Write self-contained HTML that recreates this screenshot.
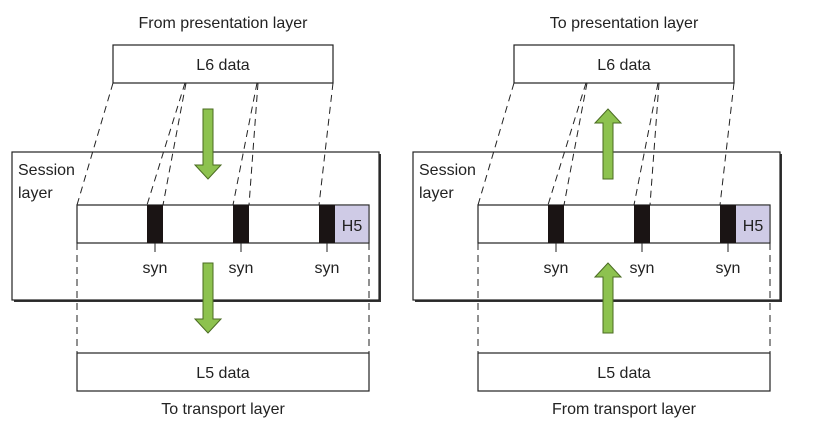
<!DOCTYPE html>
<html><head><meta charset="utf-8"><style>
html,body{margin:0;padding:0;background:#fff;}
svg{display:block;}
text{font-family:"Liberation Sans",sans-serif;font-size:16px;fill:#222;}
</style></head><body>
<svg width="829" height="432" viewBox="0 0 829 432" xmlns="http://www.w3.org/2000/svg">
<defs>
<g id="common">
  <rect x="14" y="154" width="367" height="148" fill="#333"/>
  <rect x="12" y="152" width="367" height="148" fill="#fff" stroke="#222" stroke-width="1.2"/>
  <rect x="113" y="45" width="220" height="38" fill="#fff" stroke="#222" stroke-width="1.2"/>
  <text x="223" y="70" text-anchor="middle">L6 data</text>
  <text x="18" y="175">Session</text>
  <text x="18" y="198">layer</text>
  <rect x="77" y="205" width="292" height="38" fill="#fff" stroke="#222" stroke-width="1.2"/>
  <rect x="147" y="205" width="16" height="38" fill="#1a1414"/>
  <rect x="233" y="205" width="16" height="38" fill="#1a1414"/>
  <rect x="319" y="205" width="16" height="38" fill="#1a1414"/>
  <rect x="335" y="205.6" width="33.4" height="36.8" fill="#cfcbe6"/>
  <text x="352" y="231" text-anchor="middle">H5</text>
  <g stroke="#222" stroke-width="1" stroke-dasharray="7,5" fill="none">
    <line x1="113" y1="83" x2="77" y2="205"/>
    <line x1="185" y1="83" x2="147" y2="205"/>
    <line x1="186" y1="83" x2="163" y2="205"/>
    <line x1="257" y1="83" x2="233" y2="205"/>
    <line x1="258" y1="83" x2="249" y2="205"/>
    <line x1="333" y1="83" x2="319" y2="205"/>
    <line x1="77" y1="243" x2="77" y2="353"/>
    <line x1="369" y1="243" x2="369" y2="353"/>
  </g>
  <g stroke="#222" stroke-width="1">
    <line x1="155" y1="243" x2="155" y2="252"/>
    <line x1="241" y1="243" x2="241" y2="252"/>
    <line x1="327" y1="243" x2="327" y2="252"/>
  </g>
  <text x="155" y="273" text-anchor="middle">syn</text>
  <text x="241" y="273" text-anchor="middle">syn</text>
  <text x="327" y="273" text-anchor="middle">syn</text>
  <rect x="77" y="353" width="292" height="38" fill="#fff" stroke="#222" stroke-width="1.2"/>
  <text x="223" y="378" text-anchor="middle">L5 data</text>
</g>
<polygon id="down" points="-5,0 5,0 5,56 13,56 0,70 -13,56 -5,56" fill="#8dc24f" stroke="#4a6b22" stroke-width="1"/>
</defs>

<use href="#common"/>
<text x="223" y="28" text-anchor="middle">From presentation layer</text>
<text x="223" y="414" text-anchor="middle">To transport layer</text>
<use href="#down" transform="translate(208,109)"/>
<use href="#down" transform="translate(208,263)"/>

<g transform="translate(401,0)">
  <use href="#common"/>
  <text x="223" y="28" text-anchor="middle">To presentation layer</text>
  <text x="223" y="414" text-anchor="middle">From transport layer</text>
  <use href="#down" transform="translate(207,179) scale(1,-1)"/>
  <use href="#down" transform="translate(207,333) scale(1,-1)"/>
</g>
</svg>
</body></html>
